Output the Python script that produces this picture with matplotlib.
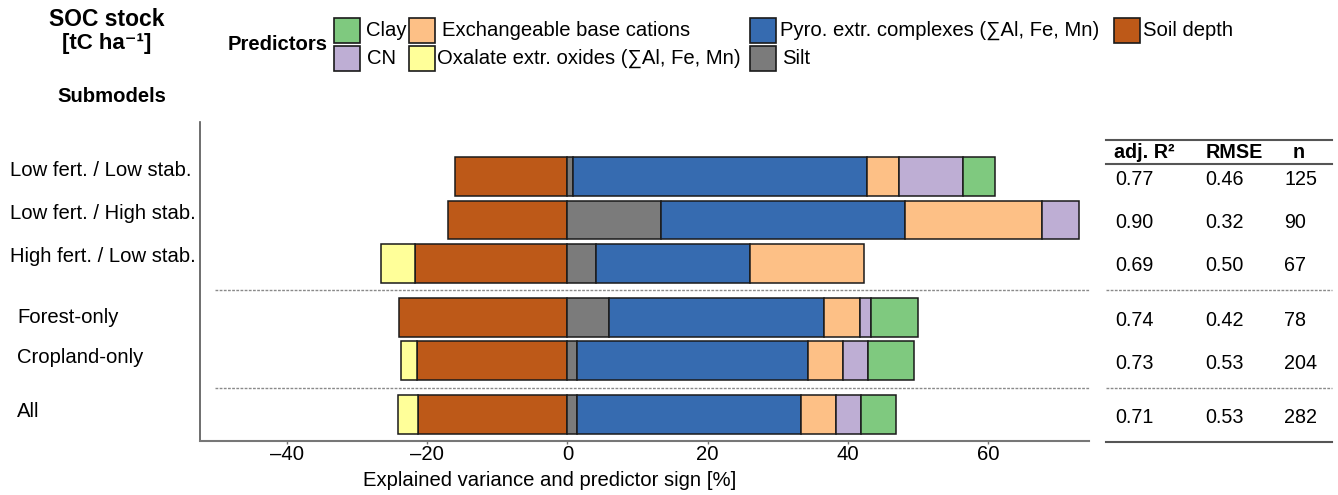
#!/usr/bin/env python3
"""Relative importance of SOC stock predictors per submodel."""

import matplotlib

matplotlib.use("Agg")
import matplotlib.pyplot as plt  # noqa: I001
from matplotlib.patches import Rectangle
from matplotlib.transforms import blended_transform_factory

plt.rcParams["font.family"] = ["Liberation Sans", "DejaVu Sans"]

submodels = [
    "Low fert. / Low stab.",
    "Low fert. / High stab.",
    "High fert. / Low stab.",
    "Forest-only",
    "Cropland-only",
    "All",
]

# signed explained variance [%] per predictor and submodel
soil_depth = [-16.1, -17.0, -21.8, -24.0, -21.5, -21.3]
oxalate = [0.0, 0.0, -4.8, 0.0, -2.2, -2.9]
silt = [0.8, 13.4, 4.1, 5.95, 1.4, 1.4]
pyro = [41.9, 34.7, 21.9, 30.6, 32.9, 31.9]
exch_cations = [4.55, 19.6, 16.3, 5.25, 5.0, 5.0]
cn = [9.2, 5.3, 0.0, 1.5, 3.6, 3.55]
clay = [4.55, 0.0, 0.0, 6.75, 6.5, 5.0]

adj_r2 = ["0.77", "0.90", "0.69", "0.74", "0.73", "0.71"]
rmse = ["0.46", "0.32", "0.50", "0.42", "0.53", "0.53"]
n_obs = ["125", "90", "67", "78", "204", "282"]

xticks = [-40, -20, 0, 20, 40, 60]

COLORS = {
    "Clay": "#7fc97f",
    "CN": "#beaed4",
    "Exchangeable base cations": "#fdc086",
    "Oxalate extr. oxides (∑Al, Fe, Mn)": "#ffff99",
    "Pyro. extr. complexes (∑Al, Fe, Mn)": "#366bb0",
    "Silt": "#7b7b7b",
    "Soil depth": "#bd5918",
}

W, H = 1338, 495
FS = 14.6

# row positions, with gaps between the groups of submodels
rows = [0, 1, 2, 3.25, 4.25, 5.5]
separators = [2.625, 4.875]


def fig_xy(x, y):
    return x / W, 1 - y / H


fig = plt.figure(figsize=(W / 100, H / 100), dpi=100)
ax = fig.add_axes([200 / W, 1 - 440.7 / H, 889 / W, 318.7 / H])

negative = [("Soil depth", soil_depth), ("Oxalate extr. oxides (∑Al, Fe, Mn)", oxalate)]
positive = [
    ("Silt", silt),
    ("Pyro. extr. complexes (∑Al, Fe, Mn)", pyro),
    ("Exchangeable base cations", exch_cations),
    ("CN", cn),
    ("Clay", clay),
]

for stack in (negative, positive):
    offset = [0.0] * len(rows)
    for name, values in stack:
        for i, (y, v) in enumerate(zip(rows, values)):
            if v == 0:
                continue
            ax.barh(y, v, left=offset[i], height=0.9, color=COLORS[name],
                    edgecolor="#1a1a1a", linewidth=1.1, zorder=3)
            offset[i] += v

ax.set_xlim(-52.4, 74.4)
ax.set_ylim(6.097, -1.263)
ax.set_yticks([])
ax.set_xticks(xticks)
ax.set_xticklabels([f"{t}".replace("-", "\u2013") for t in xticks], fontsize=FS)
ax.tick_params(axis="x", length=2.5, width=1, color="#777777", pad=0.5)
for side in ("top", "right"):
    ax.spines[side].set_visible(False)
ax.spines["left"].set_color("#555555")
ax.spines["left"].set_linewidth(1.2)
ax.spines["bottom"].set_color("#777777")
ax.spines["bottom"].set_linewidth(1.5)

# x in figure fraction, y in data units
mixed = blended_transform_factory(fig.transFigure, ax.transData)

for y in separators:
    ax.plot([215 / W, 1089 / W], [y, y], transform=mixed, color="#8a8a8a",
            lw=1.0, ls=(0, (2, 1)), clip_on=False)
    ax.plot([1106 / W, 1332 / W], [y, y], transform=mixed, color="#8a8a8a",
            lw=1.0, ls=(0, (2, 1)), clip_on=False)

# row labels
label_x = [10, 10, 10, 17, 17, 17]
label_dy = [-0.15, -0.15, -0.15, 0.0, -0.07, -0.08]
for name, y, lx, dy in zip(submodels, rows, label_x, label_dy):
    ax.text(lx / W, y + dy, name, transform=mixed, ha="left", va="center",
            fontsize=FS)

# model statistics table
for y in (-0.848, -0.286, 6.12):
    ax.plot([1106 / W, 1332 / W], [y, y], transform=mixed, color="#555555",
            lw=1.5, clip_on=False)
for hx, head in zip((1114, 1206, 1293), ("adj. R²", "RMSE", "n")):
    ax.text(hx / W, -0.554, head, transform=mixed, ha="left", va="center",
            fontsize=FS - 0.4, fontweight="bold")
for y, r2, err, n in zip(rows, adj_r2, rmse, n_obs):
    for cx, val in zip((1115, 1205, 1284), (r2, err, n)):
        ax.text(cx / W, y + 0.06, val, transform=mixed, ha="left",
                va="center", fontsize=FS - 0.4)

fig.text(*fig_xy(550, 481), "Explained variance and predictor sign [%]",
         ha="center", va="center", fontsize=FS)

# headings
fig.text(*fig_xy(107, 20), "SOC stock", ha="center", va="center",
         fontsize=16.5, fontweight="bold")
fig.text(*fig_xy(107, 43), "[tC ha\u207b\u00b9]", ha="center", va="center",
         fontsize=16, fontweight="bold")
fig.text(*fig_xy(112, 97), "Submodels", ha="center", va="center",
         fontsize=FS, fontweight="bold")
fig.text(*fig_xy(278, 45), "Predictors", ha="center", va="center",
         fontsize=FS, fontweight="bold")

# legend
legend_items = [
    ("Clay", 334, 30.5, 366),
    ("CN", 334, 58.5, 367),
    ("Exchangeable base cations", 409, 30.5, 442),
    ("Oxalate extr. oxides (∑Al, Fe, Mn)", 409, 58.5, 437),
    ("Pyro. extr. complexes (∑Al, Fe, Mn)", 750, 30.5, 780),
    ("Silt", 750, 58.5, 782),
    ("Soil depth", 1114, 30.5, 1143),
]
for name, px, py, tx in legend_items:
    x0, y0 = fig_xy(px, py + 12.5)
    fig.add_artist(Rectangle((x0, y0), 26 / W, 25 / H, transform=fig.transFigure,
                             facecolor=COLORS[name], edgecolor="#1a1a1a", lw=1.2))
    fig.text(*fig_xy(tx, py), name, ha="left", va="center", fontsize=FS)

fig.savefig("out.png", dpi=100)
